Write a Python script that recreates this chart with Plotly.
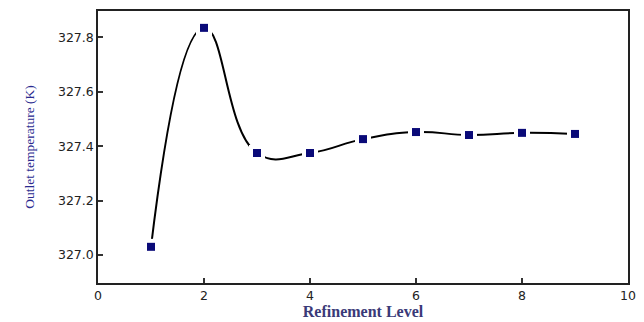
import plotly.graph_objects as go

refinement_level = [1, 2, 3, 4, 5, 6, 7, 8, 9]
outlet_temperature = [327.03, 327.835, 327.375, 327.375, 327.426, 327.452, 327.441, 327.449, 327.445]

x_ticks = [0, 2, 4, 6, 8, 10]
y_ticks = [327.0, 327.2, 327.4, 327.6, 327.8]

fig = go.Figure()
fig.add_trace(go.Scatter(
    x=refinement_level, y=outlet_temperature, mode="lines",
    line=dict(color="black", width=2, shape="spline", smoothing=1.3),
    hoverinfo="skip", showlegend=False))
fig.add_trace(go.Scatter(
    x=refinement_level, y=outlet_temperature, mode="markers",
    marker=dict(symbol="square", size=16, color="white", line=dict(width=0)),
    hoverinfo="skip", showlegend=False))
fig.add_trace(go.Scatter(
    x=refinement_level, y=outlet_temperature, mode="markers",
    marker=dict(symbol="square", size=8, color="#0a0a78", line=dict(width=0)),
    showlegend=False))

# page body has an 8px default margin, so the figure is sized/offset to compensate
fig.update_layout(
    width=636, height=314,
    margin=dict(l=90, r=16, t=3, b=39, autoexpand=False),
    paper_bgcolor="white", plot_bgcolor="white",
    xaxis=dict(
        range=[0, 10], tickvals=x_ticks, ticktext=[str(v) for v in x_ticks],
        ticks="inside", ticklen=5, tickwidth=1.5, tickcolor="#333",
        showline=True, linecolor="#222", linewidth=1.5, mirror=True,
        showgrid=False, zeroline=False, automargin=False,
        tickfont=dict(family="DejaVu Sans", size=12.5, color="#222"),
        title=dict(text="<b>Refinement Level</b>", standoff=4,
                   font=dict(family="Liberation Serif, Times New Roman", size=16, color="#3a3a78")),
    ),
    yaxis=dict(
        range=[326.897, 327.897], tickvals=y_ticks, ticktext=[f"{v:.1f}" for v in y_ticks],
        ticks="inside", ticklen=5, tickwidth=1.5, tickcolor="#333",
        showline=True, linecolor="#222", linewidth=1.5, mirror=True,
        showgrid=False, zeroline=False, automargin=False,
        tickfont=dict(family="DejaVu Sans", size=12.5, color="#222"),
        title=dict(text="Outlet temperature (K)", standoff=20,
                   font=dict(family="Liberation Serif, Times New Roman", size=13.5, color="#2a2a90")),
    ),
)

fig.write_html("out.html")
